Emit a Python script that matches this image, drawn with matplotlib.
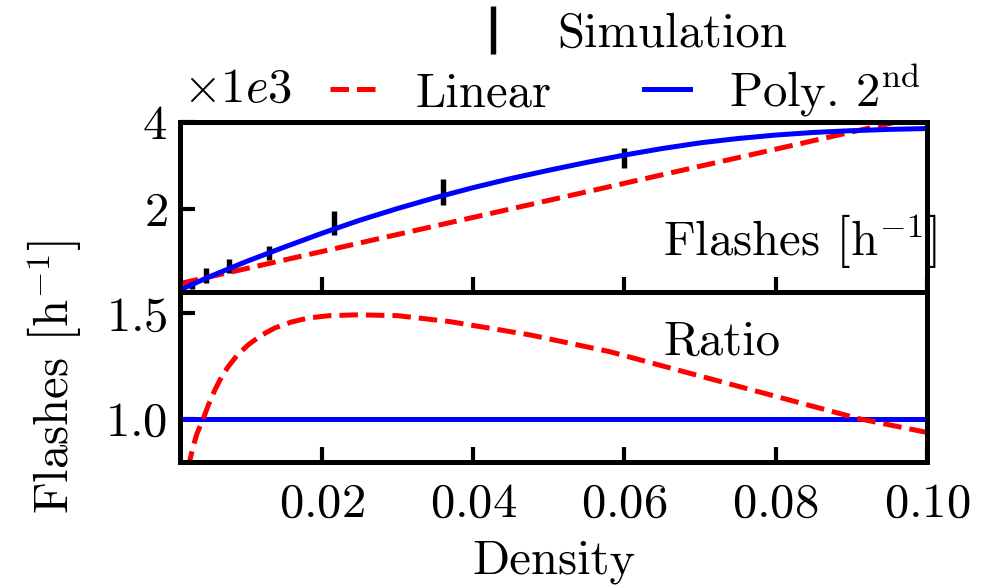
import numpy as np
import matplotlib
matplotlib.use("Agg")
import matplotlib.pyplot as plt

# Simulation points (flashes in units of 1e3)
sim_x = [0.0028, 0.00467, 0.00778, 0.01296, 0.0216, 0.036, 0.06]
sim_y = [0.26, 0.47, 0.69, 0.98, 1.68, 2.38, 3.17]
sim_err = [0.10, 0.17, 0.17, 0.16, 0.27, 0.30, 0.23]

# linear fit (read at its two ends)
lin_x = [0.00125, 0.1]
lin_y = [0.285, 4.16]

# 2nd order polynomial fit
poly_x = [0.00125, 0.005, 0.01, 0.015, 0.02, 0.025, 0.03, 0.035, 0.04, 0.045, 0.05,
          0.055, 0.06, 0.065, 0.07, 0.075, 0.08, 0.085, 0.09, 0.095, 0.1]
poly_y = [0.14, 0.43, 0.79, 1.12, 1.44, 1.74, 2.01, 2.26, 2.49, 2.70, 2.89,
          3.07, 3.24, 3.39, 3.52, 3.62, 3.70, 3.76, 3.80, 3.83, 3.85]

# ratio panel
ratio_x = [0.0023, 0.00257, 0.0030, 0.0035, 0.00433, 0.005, 0.00587, 0.0067, 0.00763,
           0.0088, 0.01027, 0.012, 0.0138, 0.016, 0.0182, 0.021, 0.0248, 0.030,
           0.0369, 0.0475, 0.058, 0.070, 0.080, 0.091, 0.1]
ratio_y = [0.76, 0.806, 0.87, 0.93, 1.00, 1.065, 1.137, 1.195, 1.247,
           1.30, 1.35, 1.395, 1.43, 1.458, 1.477, 1.488, 1.492, 1.488,
           1.46, 1.397, 1.318, 1.202, 1.106, 1.00, 0.935]

x_ticks = [0.02, 0.04, 0.06, 0.08, 0.10]

plt.rcParams['font.family'] = 'serif'
plt.rcParams['font.serif'] = ['cmr10']
plt.rcParams['mathtext.fontset'] = 'cm'
plt.rcParams['axes.formatter.use_mathtext'] = True
plt.rcParams['font.size'] = 11.7

unit = r'Flashes $\left[\mathrm{h}^{-1}_{\;}\right]$'

W, H = 997, 588
fig = plt.figure(figsize=(W / 300, H / 300), dpi=300)
ax1 = fig.add_axes([180 / W, 1 - 292 / H, 747 / W, 170 / H])
ax2 = fig.add_axes([180 / W, 1 - 462 / H, 747 / W, 170 / H], sharex=ax1)

h_sim = ax1.errorbar(sim_x, sim_y, yerr=sim_err, fmt='none', ecolor='k',
                     elinewidth=1.3, capsize=0)
h_lin, = ax1.plot(lin_x, lin_y, 'r--', lw=1.2)
h_poly, = ax1.plot(poly_x, poly_y, 'b-', lw=1.2)

ax2.axhline(1.0, color='b', lw=1.2)
ax2.plot(ratio_x, ratio_y, 'r--', lw=1.2)

ax1.set_xlim(0.00125, 0.1)
ax1.set_ylim(0.09, 4.0)
ax1.set_yticks([2, 4])
ax2.set_ylim(0.795, 1.6)
ax2.set_yticks([1.0, 1.5])
ax2.set_xticks(x_ticks)

for ax in (ax1, ax2):
    ax.tick_params(direction='in', length=3.6, width=1.0, top=False, right=False)
    ax.tick_params(axis='x', pad=5)
    ax.tick_params(axis='y', pad=3)
    for s in ax.spines.values():
        s.set_linewidth(1.2)
ax1.tick_params(labelbottom=False)

ax1.text(0.6466, 0.294, unit, transform=ax1.transAxes, ha='left', va='center')
ax2.text(0.6466, 0.70, 'Ratio', transform=ax2.transAxes, ha='left', va='center')

ax2.set_xlabel('Density', labelpad=3)
ax2.set_ylabel(unit, labelpad=5)

fig.text(183 / W, 1 - 90 / H, r'$\times 1e3$', ha='left', va='center')

fig.legend([h_sim], ['Simulation'], loc='center left',
           bbox_to_anchor=(469 / W, 1 - 35 / H), frameon=False,
           handlelength=1.0, handletextpad=0.8, borderpad=0, borderaxespad=0)
fig.legend([h_lin, h_poly], ['Linear', r'Poly. 2$^{\rm nd}$'], ncol=2,
           loc='center left', bbox_to_anchor=(330 / W, 1 - 90 / H), frameon=False,
           handlelength=0.95, handletextpad=0.8, columnspacing=1.9,
           borderpad=0, borderaxespad=0)

fig.savefig('out.png', dpi=300)
